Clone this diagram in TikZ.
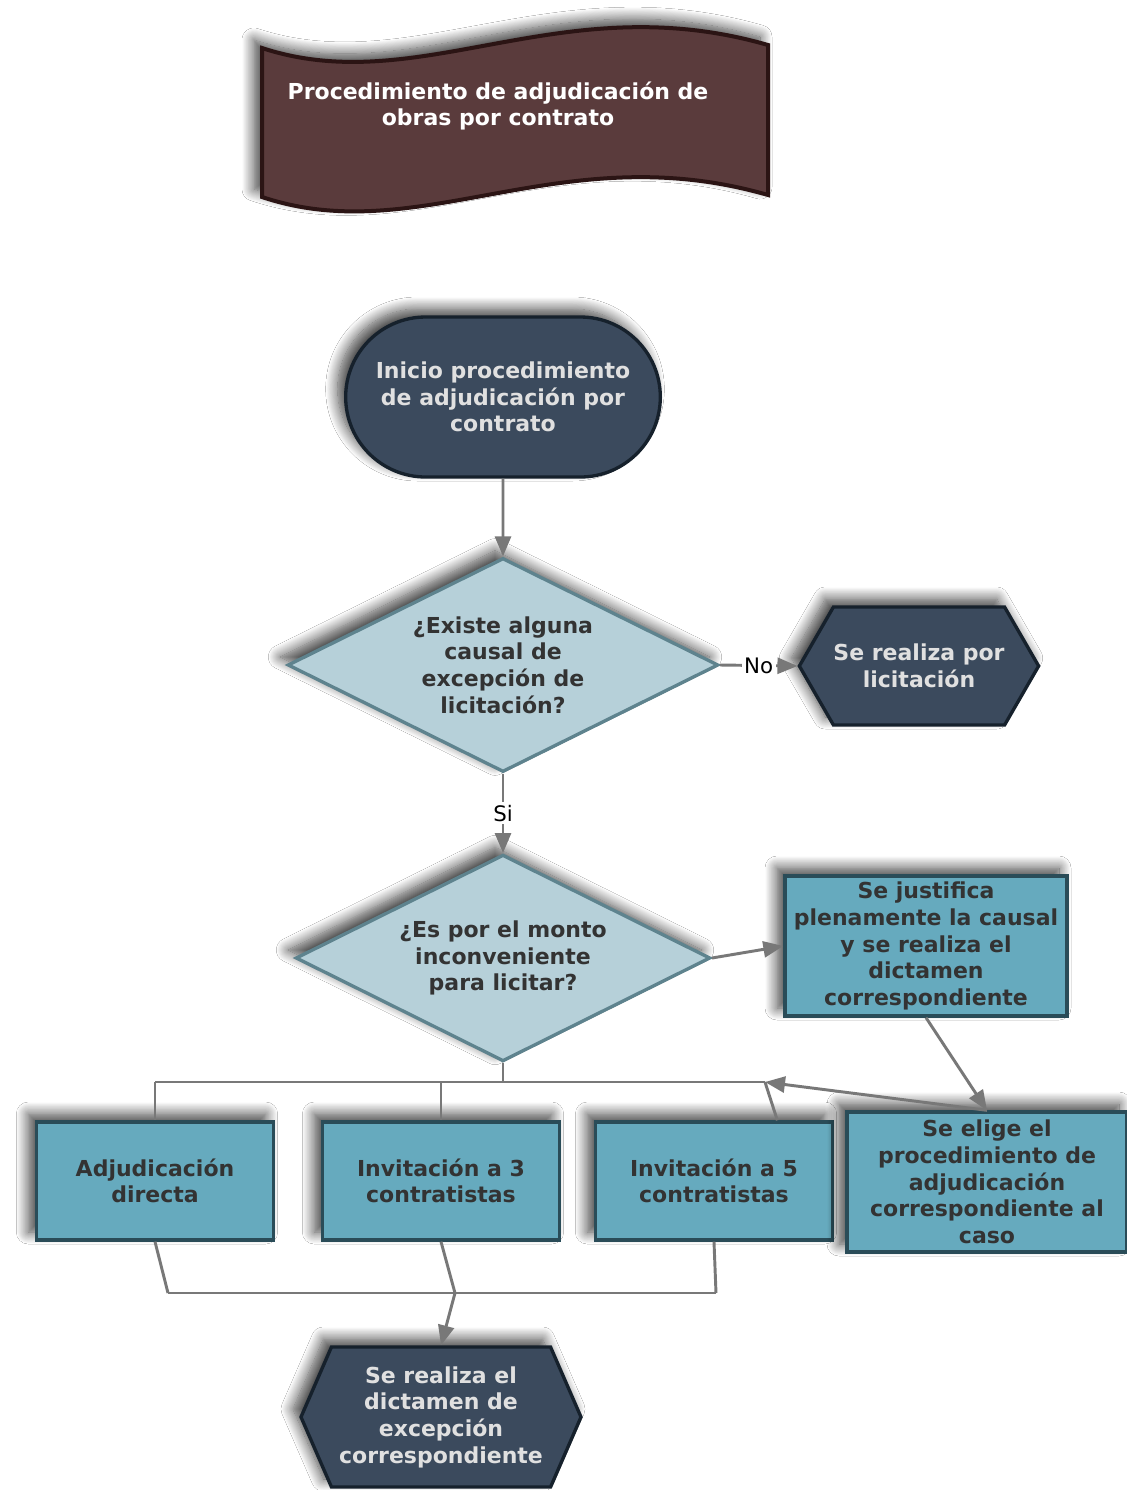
\documentclass[tikz,border=0pt]{standalone}
\usepackage{fontspec}
\setmainfont{DejaVu Sans}
\usetikzlibrary{arrows.meta,positioning,calc,shapes.geometric,shapes.misc,shapes.symbols,shadows.blur}

\definecolor{slate}{HTML}{3B4A5D}
\definecolor{slateline}{HTML}{16212C}
\definecolor{teal}{HTML}{66AABE}
\definecolor{tealline}{HTML}{2A4C58}
\definecolor{askfill}{HTML}{B6D0D9}
\definecolor{askline}{HTML}{5E838E}
\definecolor{wine}{HTML}{5A3B3C}
\definecolor{wineline}{HTML}{2B1414}
\definecolor{txt}{HTML}{333333}
\definecolor{linegray}{HTML}{787878}

\begin{document}
\begin{tikzpicture}[
  x=0.75pt, y=-0.75pt,
  every node/.style={font=\bfseries\fontsize{16.5}{20}\selectfont, align=center},
  shade/.style={blur shadow={shadow xshift=-6pt, shadow yshift=6pt,
      shadow blur radius=9pt, shadow blur steps=14, shadow opacity=75}},
  darkbox/.style={shade, fill=slate, draw=slateline, line width=2.5pt, text=white!88!black},
  term/.style={darkbox, rounded rectangle, minimum width=236pt, minimum height=120pt, inner sep=0pt},
  hexa/.style={darkbox, signal, signal to=west and east, inner sep=0pt},
  ask/.style={shade, diamond, aspect=2, fill=askfill, draw=askline, line width=2.5pt, text=txt, inner sep=0pt},
  act/.style={shade, rectangle, fill=teal, draw=tealline, line width=2.5pt, text=txt,
      minimum width=178pt, minimum height=88.5pt, inner sep=0pt},
  conn/.style={-{Triangle[length=15pt,width=12pt]}, line width=2.2pt, linegray},
  wire/.style={line width=2.2pt, linegray},
  lbl/.style={font=\fontsize{16}{19}\selectfont, fill=white, inner sep=2pt, text=black},
]
\useasboundingbox (0,0) rectangle (1127,1490);
% ---------------- title ----------------
\fill[white] (0,0) rectangle (1127,1490);
\draw[shade, fill=wine, draw=wineline, line width=3pt]
  (262,48) .. controls (420,100) and (560,-15) .. (768,45)
  -- (768,195) .. controls (560,135) and (420,250) .. (262,197) -- cycle;
\node[text=white] (title) at (498,106) {Procedimiento de adjudicación de\\obras por contrato};
% ---------------- decisions ----------------
\node[term] (inicio) at (503,397) {Inicio procedimiento\\de adjudicación por\\contrato};
\node[ask, minimum width=323pt, minimum height=160.5pt] (existe) at (503,665)
  {¿Existe alguna\\causal de\\excepción de\\licitación?};
\node[hexa, minimum width=178.5pt, minimum height=88.5pt, signal pointer angle=120] (licit) at (919,666)
  {Se realiza por\\licitación};
\node[ask, minimum width=311pt, minimum height=155pt] (monto) at (503,958)
  {¿Es por el monto\\inconveniente\\para licitar?};
\node[act, minimum width=211.5pt, minimum height=105pt] (justif) at (926,946)
  {Se justifica\\plenamente la causal\\y se realiza el\\dictamen\\correspondiente};
% ---------------- options ----------------
\node[act] (directa) at (155,1181) {Adjudicación\\directa};
\node[act] (inv3) at (441,1181) {Invitación a 3\\contratistas};
\node[act] (inv5) at (714,1181) {Invitación a 5\\contratistas};
\node[act, minimum width=210pt, minimum height=105pt] (elige) at (987,1182)
  {Se elige el\\procedimiento de\\adjudicación\\correspondiente al\\caso};
\node[hexa, minimum width=210pt, minimum height=105pt, signal pointer angle=133] (dictamen) at (441,1417)
  {Se realiza el\\dictamen de\\excepción\\correspondiente};
% ---------------- bus points ----------------
\coordinate (busL) at (155,1082);
\coordinate (busM) at (503,1082);
\coordinate (busR) at (765,1082);
\coordinate (lowL) at (168,1293);
\coordinate (lowM) at (455,1293);
\coordinate (lowR) at (716,1293);
% ---------------- connectors ----------------
\draw[conn] (inicio) -- (existe);
\draw[conn] (existe.east) -- node[lbl] {No} (licit.west);
\draw[conn] (existe.south) -- node[lbl] {Si} (monto.north);
\draw[conn] (monto.east) -- (justif.west);
\draw[conn] (justif.south) -- (elige.north);
\draw[conn] (elige.north) -- (busR);
\draw[wire] (monto.south) -- (busM);
\draw[wire] (busL) -- (busR);
\draw[wire] (busL) -- (directa.north);
\draw[wire] (busL -| inv3.north) -- (inv3.north);
\draw[wire] (busR) -- ($(inv5.north east)+(-57,0)$);
\draw[wire] (directa.south) -- (lowL);
\draw[wire] (inv3.south) -- (lowM);
\draw[wire] (inv5.south) -- (lowR);
\draw[wire] (lowL) -- (lowR);
\draw[conn] (lowM) -- (dictamen.north);
\end{tikzpicture}
\end{document}
